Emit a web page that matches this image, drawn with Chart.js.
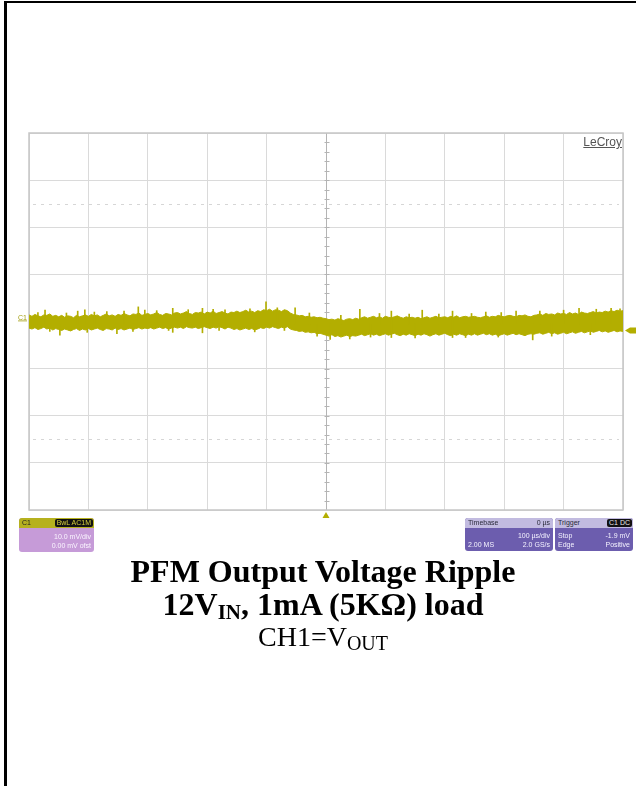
<!DOCTYPE html>
<html>
<head>
<meta charset="utf-8">
<title>PFM Output Voltage Ripple</title>
<script src="https://cdn.jsdelivr.net/npm/chart.js@4/dist/chart.umd.min.js"></script>
<style>
  html, body { margin: 0; padding: 0; background: #fff; }
  #page { position: relative; width: 636px; height: 786px; overflow: hidden; background: #fff; }
  #scope { position: absolute; left: 0; top: 0; }
  .frameL { position: absolute; left: 4px; top: 1px; width: 3px; height: 785px; background: #000; }
  .frameT { position: absolute; left: 4px; top: 1px; width: 632px; height: 2px; background: #000; }
  .brand { position: absolute; left: 560px; top: 136px; width: 62px; text-align: right;
           font: 12px "Liberation Sans", Arial, sans-serif; color: #555; text-decoration: underline; line-height: 13px; }
  .cap { position: absolute; left: 7px; width: 632px; text-align: center; white-space: nowrap;
         font-family: "Liberation Serif", "Times New Roman", serif; color: #000; }
  .cap.b { font-weight: bold; font-size: 32px; line-height: 32px; }
  .cap.r { font-size: 28px; line-height: 28px; }
  .sub { position: relative; top: 4px; }
  .box { position: absolute; border-radius: 3px; overflow: hidden;
         font: 7px/8px "Liberation Sans", Arial, sans-serif; }
  .box .hdr { position: relative; height: 10px; line-height: 10px; padding: 0 3px; }
  .box .rows { padding: 3px 3px 0 3px; }
  .box .row { position: relative; height: 9px; line-height: 9px; }
  .box .row .l { position: absolute; left: 0; }
  .box .row .rt { position: absolute; right: 0; }
  .box .tag { position: absolute; right: 1px; top: 1px; height: 8px; line-height: 8px; padding: 0 2px;
              background: #111; border-radius: 2px; }
  #chBox { left: 19px; top: 518px; width: 75px; height: 34px; background: #c69bd8; color: #fbf6ff; }
  #chBox .hdr { background: #b6b11e; color: #222; }
  #chBox .tag { color: #d6cf3a; }
  #chBox .rows { padding-top: 4px; }
  #tbBox { left: 465px; top: 518px; width: 88px; height: 33px; background: #6c5dae; color: #f4f2ff; }
  #trBox { left: 555px; top: 518px; width: 78px; height: 33px; background: #6c5dae; color: #f4f2ff; }
  #tbBox .hdr, #trBox .hdr { background: #c2bbe0; color: #2a2a3a; }
  #trBox .tag { color: #e8e8e8; }
</style>
</head>
<body>
<div id="page">
  <canvas id="scope" width="636" height="786"></canvas>
  <div class="frameL"></div>
  <div class="frameT"></div>
  <div class="brand">LeCroy</div>

  <div class="box" id="chBox">
    <div class="hdr">C1<span class="tag">BwL AC1M</span></div>
    <div class="rows">
      <div class="row"><span class="rt">10.0 mV/div</span></div>
      <div class="row"><span class="rt">0.00 mV ofst</span></div>
    </div>
  </div>
  <div class="box" id="tbBox">
    <div class="hdr">Timebase<span style="position:absolute;right:3px;">0 µs</span></div>
    <div class="rows">
      <div class="row"><span class="rt">100 µs/div</span></div>
      <div class="row"><span class="l">2.00 MS</span><span class="rt">2.0 GS/s</span></div>
    </div>
  </div>
  <div class="box" id="trBox">
    <div class="hdr">Trigger<span class="tag">C1 DC</span></div>
    <div class="rows">
      <div class="row"><span class="l">Stop</span><span class="rt">-1.9 mV</span></div>
      <div class="row"><span class="l">Edge</span><span class="rt">Positive</span></div>
    </div>
  </div>

  <div class="cap b" style="top:555px;">PFM Output Voltage Ripple</div>
  <div class="cap b" style="top:588px;">12V<span class="sub" style="font-size:21px;">IN</span>, 1mA (5KΩ) load</div>
  <div class="cap r" style="top:623px;">CH1=V<span class="sub" style="font-size:20px;">OUT</span></div>
</div>

<script>
// Acquisition: 10 mV/div vertical, 100 µs/div horizontal (10 x 8 divisions)
const timeMin = 0, timeMax = 1000, timeDiv = 100;    // µs
const voltMin = -40, voltMax = 40, voltDiv = 10;     // mV
const centreTimeUs = 500;
const triggerLevelMv = -1.9;
const guideLevelsMv = [25, -25];

// Peak-detected envelope of the CH1 ripple (mV), one pair every 5 µs
const timeUs = [
  0, 5, 10, 15, 20, 25, 30, 35, 40, 45,
  50, 55, 60, 65, 70, 75, 80, 85, 90, 95,
  100, 105, 110, 115, 120, 125, 130, 135, 140, 145,
  150, 155, 160, 165, 170, 175, 180, 185, 190, 195,
  200, 205, 210, 215, 220, 225, 230, 235, 240, 245,
  250, 255, 260, 265, 270, 275, 280, 285, 290, 295,
  300, 305, 310, 315, 320, 325, 330, 335, 340, 345,
  350, 355, 360, 365, 370, 375, 380, 385, 390, 395,
  400, 405, 410, 415, 420, 425, 430, 435, 440, 445,
  450, 455, 460, 465, 470, 475, 480, 485, 490, 495,
  500, 505, 510, 515, 520, 525, 530, 535, 540, 545,
  550, 555, 560, 565, 570, 575, 580, 585, 590, 595,
  600, 605, 610, 615, 620, 625, 630, 635, 640, 645,
  650, 655, 660, 665, 670, 675, 680, 685, 690, 695,
  700, 705, 710, 715, 720, 725, 730, 735, 740, 745,
  750, 755, 760, 765, 770, 775, 780, 785, 790, 795,
  800, 805, 810, 815, 820, 825, 830, 835, 840, 845,
  850, 855, 860, 865, 870, 875, 880, 885, 890, 895,
  900, 905, 910, 915, 920, 925, 930, 935, 940, 945,
  950, 955, 960, 965, 970, 975, 980, 985, 990, 995,
  1000
];
const envHighMv = [
  1.4, 1.1, 1.5, 1.2, 1.0, 1.4, 1.3, 1.6, 1.1, 1.3,
  1.0, 1.3, 0.9, 1.2, 1.1, 0.8, 1.3, 1.0, 1.2, 1.4,
  1.1, 1.5, 1.2, 1.4, 1.0, 1.3, 1.6, 1.2, 1.4, 1.1,
  1.5, 1.3, 1.7, 1.4, 1.2, 1.6, 1.5, 1.8, 1.3, 1.5,
  1.7, 1.4, 1.6, 1.9, 1.5, 1.3, 1.7, 1.6, 1.4, 1.8,
  1.9, 1.6, 1.8, 2.1, 1.7, 1.5, 1.9, 1.8, 2.0, 1.6,
  2.0, 1.8, 2.2, 1.7, 1.9, 2.1, 1.8, 1.6, 2.0, 1.9,
  2.2, 1.9, 2.1, 2.4, 2.0, 2.2, 1.9, 2.3, 2.1, 2.5,
  2.3, 2.6, 2.2, 2.5, 2.4, 2.1, 2.5, 2.3, 1.8, 1.5,
  1.4, 1.2, 1.3, 1.0, 1.1, 0.9, 1.0, 0.8, 0.9, 0.7,
  0.6, 0.4, 0.5, 0.3, 0.6, 0.4, 0.2, 0.5, 0.6, 0.4,
  0.7, 0.5, 0.8, 1.0, 0.7, 0.9, 1.1, 0.8, 1.0, 0.7,
  1.1, 0.9, 0.8, 1.0, 1.2, 0.9, 0.7, 1.0, 0.8, 0.9,
  0.7, 0.9, 0.6, 0.8, 1.0, 0.7, 0.9, 1.1, 0.8, 0.9,
  1.0, 0.8, 1.1, 0.9, 1.2, 0.8, 1.0, 1.1, 0.9, 1.0,
  1.1, 0.9, 0.8, 1.0, 1.2, 0.9, 1.1, 1.0, 1.3, 1.1,
  1.0, 1.2, 1.3, 1.1, 1.0, 1.3, 1.2, 1.4, 1.1, 1.0,
  1.3, 1.4, 1.6, 1.3, 1.7, 1.5, 1.6, 1.4, 1.8, 1.6,
  1.7, 1.5, 1.9, 1.6, 1.8, 1.5, 2.0, 1.8, 1.7, 1.9,
  2.1, 1.8, 2.0, 1.9, 2.2, 2.0, 2.3, 2.1, 2.4, 2.2,
  2.3
];
const envLowMv = [
  -1.4, -1.6, -1.3, -1.7, -1.5, -1.2, -1.6, -1.4, -1.8, -1.5,
  -1.7, -1.9, -1.6, -1.8, -2.0, -1.7, -1.5, -1.9, -1.6, -1.8,
  -1.5, -1.8, -1.6, -1.4, -1.7, -1.9, -1.5, -1.6, -1.8, -1.4,
  -1.7, -1.5, -1.8, -1.6, -1.4, -1.7, -1.5, -1.3, -1.6, -1.4,
  -1.5, -1.3, -1.6, -1.4, -1.2, -1.5, -1.3, -1.6, -1.4, -1.2,
  -1.4, -1.2, -1.5, -1.1, -1.3, -1.4, -1.2, -1.5, -1.3, -1.1,
  -1.3, -1.5, -1.2, -1.4, -1.1, -1.3, -1.6, -1.2, -1.4, -1.7,
  -1.5, -1.8, -1.6, -1.4, -1.7, -1.5, -1.8, -1.6, -1.3, -1.5,
  -1.2, -1.4, -1.1, -1.3, -1.5, -1.2, -1.4, -1.1, -1.6, -1.8,
  -1.9, -2.1, -2.0, -2.3, -2.2, -2.4, -2.3, -2.6, -2.5, -2.7,
  -2.9, -3.1, -2.8, -3.2, -3.0, -3.3, -3.1, -2.9, -3.2, -3.0,
  -3.1, -2.9, -2.7, -3.0, -2.8, -2.6, -2.9, -2.7, -3.0, -2.8,
  -2.6, -2.9, -2.7, -2.5, -2.8, -3.0, -2.7, -2.9, -2.6, -2.8,
  -3.0, -2.7, -2.9, -2.6, -2.8, -3.1, -2.8, -2.6, -2.9, -2.7,
  -2.5, -2.8, -3.0, -2.7, -2.9, -2.6, -2.8, -3.0, -2.7, -2.9,
  -2.6, -2.9, -2.7, -2.5, -2.8, -2.6, -2.9, -2.7, -3.0, -2.8,
  -2.6, -2.9, -2.7, -2.5, -2.8, -2.6, -2.8, -3.0, -2.7, -2.6,
  -2.7, -2.5, -2.4, -2.7, -2.5, -2.3, -2.6, -2.4, -2.7, -2.5,
  -2.3, -2.6, -2.4, -2.2, -2.5, -2.3, -2.1, -2.4, -2.2, -2.0,
  -2.3, -2.1, -1.9, -2.2, -2.0, -2.3, -2.1, -1.9, -2.2, -2.0,
  -2.1
];

// Isolated glitches reaching past the envelope (µs, from mV, to mV)
const spikeTimeUs = [
  15, 27, 35, 52, 63, 82, 94, 98, 110, 131,
  148, 160, 175, 184, 195, 215, 235, 242, 268, 292,
  310, 320, 330, 372, 380, 399, 418, 430, 448, 472,
  485, 507, 525, 540, 557, 575, 590, 610, 640, 650,
  662, 690, 713, 735, 745, 769, 790, 795, 820, 848,
  860, 880, 900, 926, 945, 955, 980, 995
];
const spikeFromMv = [
  -0.5, -0.5, -2.1, -2.9, -0.5, -0.5, -0.5, -2.3, -0.5, -0.5,
  -2.6, -0.5, -2.1, -0.5, -0.5, -0.5, -1.9, -2.3, -0.5, -2.4,
  -0.5, -1.9, -0.5, -0.5, -2.2, -0.5, -0.5, -1.9, -0.5, -0.5,
  -3.1, -3.8, -0.5, -3.7, -0.5, -3.3, -0.5, -3.4, -0.5, -3.5,
  -0.5, -0.5, -3.4, -3.4, -0.5, -0.5, -3.3, -0.5, -0.5, -3.9,
  -0.5, -3.1, -0.5, -0.5, -2.8, -0.5, -0.5, -0.5
];
const spikeToMv = [
  1.9, 2.4, -0.5, -0.5, 1.8, 2.2, 2.5, -0.5, 2.0, 2.1,
  -0.5, 2.2, -0.5, 3.1, 2.4, 2.3, -0.5, 2.8, 2.5, 2.8,
  2.6, -0.5, 2.5, 2.7, -0.5, 4.2, 2.9, -0.5, 2.9, 1.8,
  -0.5, -0.5, 1.3, -0.5, 2.6, -0.5, 1.7, 2.2, 1.6, -0.5,
  2.4, 1.6, 2.2, -0.5, 1.7, 2.0, -0.5, 1.9, 2.2, -0.5,
  2.2, -0.5, 2.4, 2.8, -0.5, 2.6, 2.8, 2.7
];

const traceColor = '#b3ae00';

// Graticule extras: dotted guide levels, minor ticks on the centre axes, frame, markers
const scopeDecor = {
  id: 'scopeDecor',
  beforeDatasetsDraw(chart) {
    const { ctx, chartArea: a, scales: { x, y } } = chart;
    ctx.save();
    ctx.strokeStyle = '#d6d6d6';
    ctx.lineWidth = 1;
    ctx.setLineDash([3, 5]);
    guideLevelsMv.forEach(v => {
      const py = Math.round(y.getPixelForValue(v)) + 0.5;
      ctx.beginPath();
      ctx.moveTo(a.left + 4, py);
      ctx.lineTo(a.right - 4, py);
      ctx.stroke();
    });
    ctx.setLineDash([]);

    const cx = Math.round(x.getPixelForValue(centreTimeUs)) + 0.5;
    const cy = Math.round(y.getPixelForValue(0)) + 0.5;
    ctx.strokeStyle = '#b4b4b4';
    ctx.beginPath();
    ctx.moveTo(cx, a.top); ctx.lineTo(cx, a.bottom);
    ctx.moveTo(a.left, cy); ctx.lineTo(a.right, cy);
    const minorV = voltDiv / 5, minorT = timeDiv / 5;
    for (let v = voltMin + minorV; v < voltMax; v += minorV) {
      const py = Math.round(y.getPixelForValue(v)) + 0.5;
      ctx.moveTo(cx - 2, py); ctx.lineTo(cx + 3, py);
    }
    for (let t = timeMin + minorT; t < timeMax; t += minorT) {
      const px = Math.round(x.getPixelForValue(t)) + 0.5;
      ctx.moveTo(px, cy - 2); ctx.lineTo(px, cy + 3);
    }
    ctx.stroke();

    ctx.strokeStyle = '#c6c6c6';
    ctx.lineWidth = 1.5;
    ctx.strokeRect(a.left, a.top, a.right - a.left, a.bottom - a.top);
    ctx.restore();
  },
  afterDraw(chart) {
    const { ctx, chartArea: a, scales: { x, y } } = chart;
    ctx.save();
    ctx.fillStyle = traceColor;

    // trigger level marker on the right edge
    const ty = y.getPixelForValue(triggerLevelMv);
    ctx.beginPath();
    ctx.moveTo(a.right + 2, ty);
    ctx.lineTo(a.right + 7, ty - 3);
    ctx.lineTo(636, ty - 3);
    ctx.lineTo(636, ty + 3);
    ctx.lineTo(a.right + 7, ty + 3);
    ctx.closePath();
    ctx.fill();

    // trigger time marker below the graticule
    const tx = x.getPixelForValue(centreTimeUs);
    ctx.beginPath();
    ctx.moveTo(tx, a.bottom + 2);
    ctx.lineTo(tx + 3.5, a.bottom + 8);
    ctx.lineTo(tx - 3.5, a.bottom + 8);
    ctx.closePath();
    ctx.fill();

    // channel ground marker
    const gy = y.getPixelForValue(0);
    ctx.font = '7px "Liberation Sans", Arial, sans-serif';
    ctx.textBaseline = 'alphabetic';
    ctx.fillStyle = '#a39e10';
    ctx.fillText('C1', a.left - 11, gy - 2);
    ctx.fillRect(a.left - 11, gy - 1, 9, 0.8);
    ctx.restore();
  }
};

const envHigh = timeUs.map((t, i) => ({ x: t, y: envHighMv[i] }));
const envLow = timeUs.map((t, i) => ({ x: t, y: envLowMv[i] }));
const spikes = spikeTimeUs.map((t, i) => ({ x: t, y: [spikeFromMv[i], spikeToMv[i]] }));

new Chart(document.getElementById('scope'), {
  type: 'line',
  data: {
    datasets: [
      { label: 'C1 max', data: envHigh, borderColor: traceColor, borderWidth: 1,
        pointRadius: 0, fill: false, tension: 0, order: 2 },
      { label: 'C1 min', data: envLow, borderColor: traceColor, borderWidth: 1,
        pointRadius: 0, fill: '-1', backgroundColor: traceColor, tension: 0, order: 2 },
      { type: 'bar', label: 'C1 glitch', data: spikes, backgroundColor: traceColor,
        barThickness: 1, borderWidth: 0, order: 1 }
    ]
  },
  options: {
    responsive: false,
    animation: false,
    devicePixelRatio: 1,
    layout: { padding: { left: 29, top: 133, right: 13, bottom: 276 } },
    plugins: { legend: { display: false }, tooltip: { enabled: false } },
    scales: {
      x: {
        type: 'linear', min: timeMin, max: timeMax, offset: false,
        ticks: { display: false, stepSize: timeDiv },
        grid: { color: '#dadada', lineWidth: 1, drawTicks: false, offset: false },
        border: { display: false }
      },
      y: {
        type: 'linear', min: voltMin, max: voltMax,
        ticks: { display: false, stepSize: voltDiv },
        grid: { color: '#dadada', lineWidth: 1, drawTicks: false },
        border: { display: false }
      }
    }
  },
  plugins: [scopeDecor]
});
</script>
</body>
</html>
